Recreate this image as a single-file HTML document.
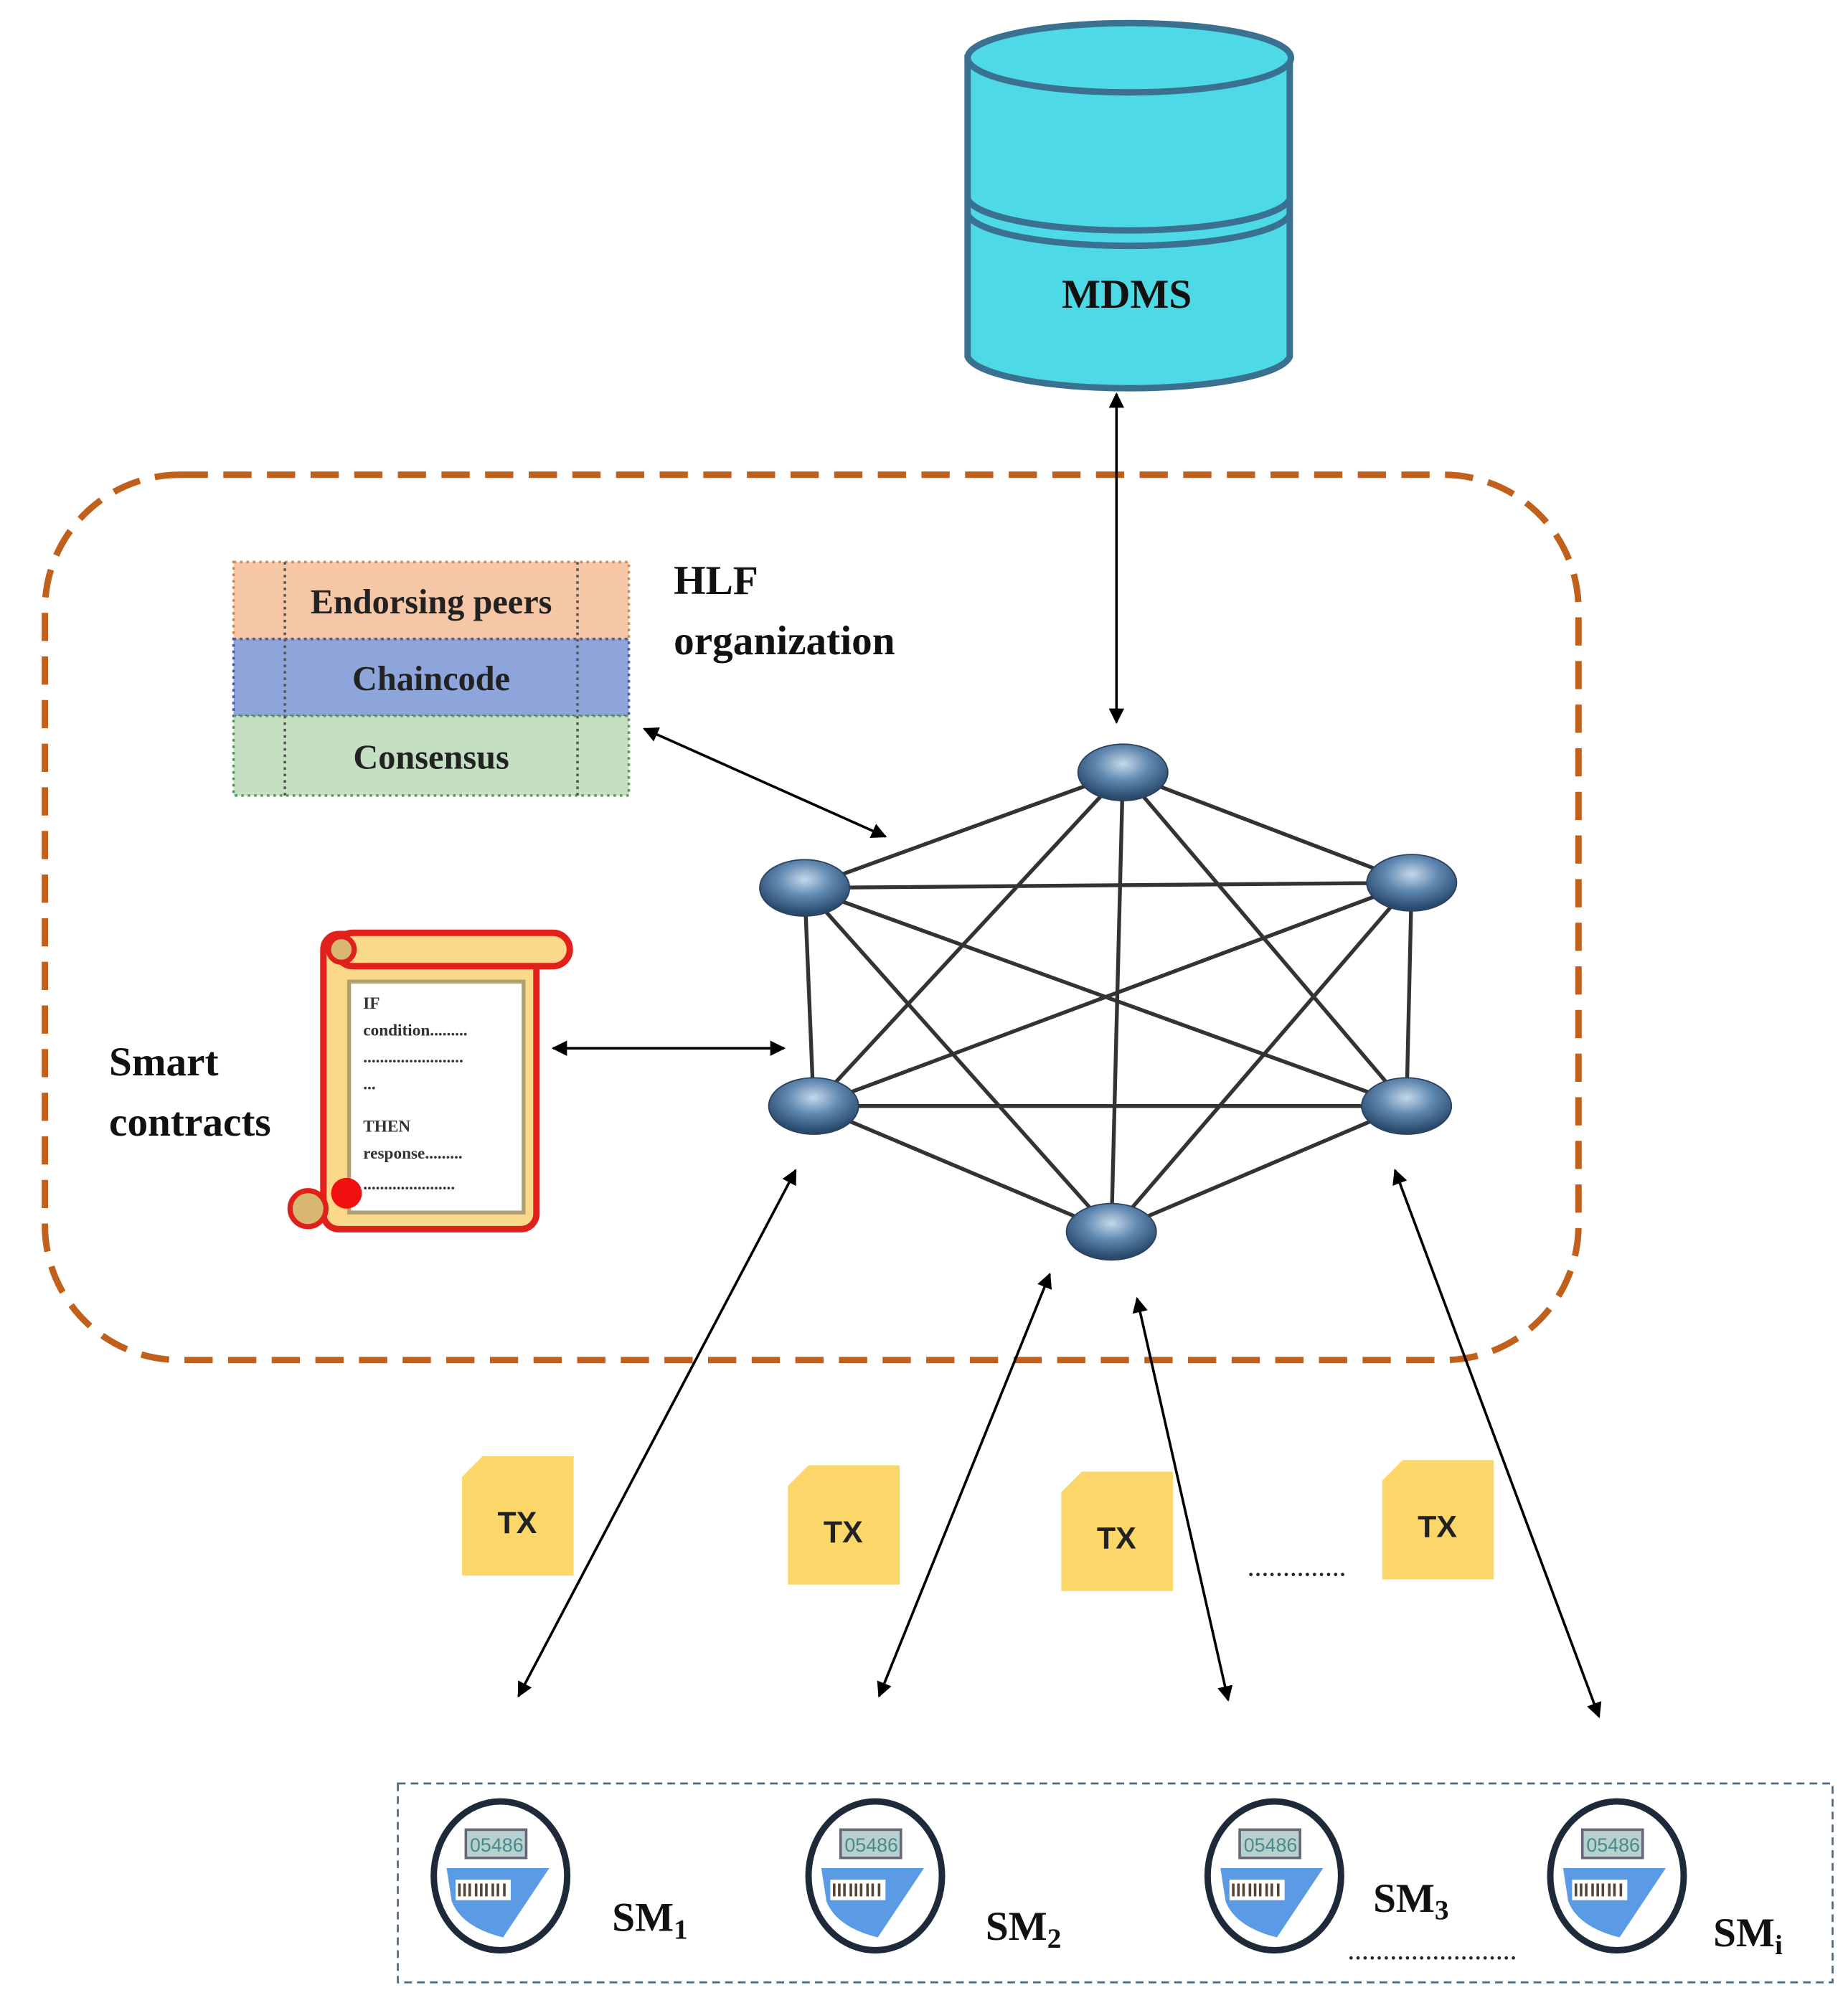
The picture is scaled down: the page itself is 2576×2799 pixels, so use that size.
<!DOCTYPE html>
<html><head><meta charset="utf-8"><style>html,body{margin:0;padding:0;background:#fff}svg{display:block}</style></head>
<body>
<svg width="2576" height="2799" viewBox="0 0 1440 1565" preserveAspectRatio="none" xmlns="http://www.w3.org/2000/svg" font-family="Liberation Serif, serif">
<defs>
<marker id="a" viewBox="0 0 10 10" refX="9" refY="5" markerWidth="6" markerHeight="6" orient="auto-start-reverse"><path d="M0,0 L10,5 L0,10 z" fill="#000"/></marker>
<radialGradient id="n" cx="0.5" cy="0.35" r="0.6"><stop offset="0" stop-color="#c5d8ea"/><stop offset="0.5" stop-color="#5f88b0"/><stop offset="1" stop-color="#2a4a6c"/></radialGradient>
<g id="m">
<ellipse cx="0" cy="0" rx="52" ry="58" fill="#fff" stroke="#1e2a3a" stroke-width="5"/>
<rect x="-27" y="-36" width="47" height="22" fill="#b8d0d0" stroke="#667" stroke-width="2"/>
<text x="-3" y="-19" font-family="Liberation Sans,sans-serif" font-size="15" fill="#4a8a8a" text-anchor="middle">05486</text>
<path d="M-42,-6 L38,-6 L2,48 Q-30,40 -38,20 Z" fill="#5b9be6"/>
<rect x="-35" y="3" width="43" height="16" fill="#fff"/>
<g stroke="#543" stroke-width="2"><path d="M-32,6v10M-28,6v10M-24,6v10M-19,6v10M-15,6v10M-11,6v10M-6,6v10M-2,6v10M3,6v10"/></g>
</g>
<g id="tx"><path d="M16,0 H87 V93 H0 V16 Z" fill="#fbd669"/><text x="43" y="60" font-family="Liberation Sans,sans-serif" font-size="24" font-weight="bold" text-anchor="middle" fill="#222">TX</text></g>
</defs>

<!-- cylinder -->
<path d="M754,45 V278 A126,27 0 0 0 1005,278 V45 Z" fill="#4dd9e5" stroke="#3a7090" stroke-width="5"/>
<ellipse cx="880" cy="45" rx="126" ry="27" fill="#4dd9e5" stroke="#3a7090" stroke-width="5"/>
<path d="M754,155 A126,27 0 0 0 1005,155" fill="none" stroke="#3a7090" stroke-width="5"/>
<path d="M754,167 A126,27 0 0 0 1005,167" fill="none" stroke="#3a7090" stroke-width="5"/>
<text x="878" y="240" font-size="32" font-weight="bold" text-anchor="middle" fill="#111">MDMS</text>

<!-- org box -->
<rect x="35" y="370" width="1195" height="690" rx="105" fill="none" stroke="#c0601a" stroke-width="5" stroke-dasharray="22 12"/>

<!-- table -->
<rect x="182" y="438" width="308" height="60" fill="#f6c7a6" stroke="#d08a5a" stroke-width="2" stroke-dasharray="2 3"/>
<rect x="182" y="498" width="308" height="60" fill="#8ea5dc" stroke="#4a5a9a" stroke-width="2" stroke-dasharray="2 3"/>
<rect x="182" y="558" width="308" height="62" fill="#c5dfc3" stroke="#5a9a5a" stroke-width="2" stroke-dasharray="2 3"/>
<path d="M222,438V620M450,438V620" stroke="#555" stroke-width="2" stroke-dasharray="2 3"/>
<g font-size="27" font-weight="bold" text-anchor="middle" fill="#222">
<text x="336" y="478">Endorsing peers</text><text x="336" y="538">Chaincode</text><text x="336" y="599">Consensus</text></g>
<g font-size="32" font-weight="bold" fill="#111"><text x="525" y="463">HLF</text><text x="525" y="510">organization</text>
<text x="85" y="838">Smart</text><text x="85" y="885">contracts</text></g>

<!-- scroll -->
<rect x="252" y="728" width="166" height="230" rx="12" fill="#fbd98a" stroke="#e0201a" stroke-width="5"/>
<rect x="262" y="727" width="182" height="26" rx="13" fill="#fbd98a" stroke="#e0201a" stroke-width="5"/>
<circle cx="266" cy="740" r="10" fill="#d8b870" stroke="#e0201a" stroke-width="4"/>
<circle cx="240" cy="942" r="14" fill="#d8b870" stroke="#e0201a" stroke-width="4"/>
<rect x="272" y="765" width="136" height="180" fill="#fff" stroke="#b0a070" stroke-width="3"/>
<g font-size="13" font-weight="bold" fill="#333"><text x="283" y="786">IF</text><text x="283" y="807">condition.........</text><text x="283" y="828">........................</text><text x="283" y="849">...</text><text x="283" y="882">THEN</text><text x="283" y="903">response.........</text><text x="283" y="927">......................</text></g>
<circle cx="270" cy="930" r="12" fill="#f01010"/>

<!-- edges -->
<g stroke="#333" stroke-width="3">
<path d="M875,602L627,692M875,602L1100,688M875,602L634,862M875,602L1096,862M875,602L866,960M627,692L1100,688M627,692L634,862M627,692L1096,862M627,692L866,960M1100,688L634,862M1100,688L1096,862M1100,688L866,960M634,862L1096,862M634,862L866,960M1096,862L866,960"/>
</g>
<g fill="url(#n)" stroke="#2a4060" stroke-width="1">
<ellipse cx="875" cy="602" rx="35" ry="22"/><ellipse cx="627" cy="692" rx="35" ry="22"/><ellipse cx="1100" cy="688" rx="35" ry="22"/><ellipse cx="634" cy="862" rx="35" ry="22"/><ellipse cx="1096" cy="862" rx="35" ry="22"/><ellipse cx="866" cy="960" rx="35" ry="22"/>
</g>
<!-- white gaps near nodes for arrow ends -->
<g stroke="#000" stroke-width="2" marker-start="url(#a)" marker-end="url(#a)" fill="none">
<path d="M870,307L870,563"/><path d="M502,568L690,652"/><path d="M431,817L611,817"/>
<path d="M620,912L404,1322"/><path d="M818,993L685,1322"/><path d="M886,1012L957,1325"/><path d="M1087,912L1246,1338"/>
</g>

<use href="#tx" x="360" y="1135"/><use href="#tx" x="614" y="1142"/><use href="#tx" x="827" y="1147"/><use href="#tx" x="1077" y="1138"/>
<text x="972" y="1228" font-size="22" fill="#222">..............</text>

<rect x="310" y="1390" width="1118" height="155" fill="none" stroke="#4a6a8a" stroke-width="1.5" stroke-dasharray="6 4"/>
<use href="#m" x="390" y="1462"/><use href="#m" x="682" y="1462"/><use href="#m" x="993" y="1462"/><use href="#m" x="1260" y="1462"/>
<g font-size="32" font-weight="bold" fill="#111">
<text x="477" y="1505">SM<tspan font-size="22" dy="6">1</tspan></text>
<text x="768" y="1512">SM<tspan font-size="22" dy="6">2</tspan></text>
<text x="1070" y="1490">SM<tspan font-size="22" dy="6">3</tspan></text>
<text x="1335" y="1517">SM<tspan font-size="22" dy="6">i</tspan></text>
</g>
<text x="1050" y="1527" font-size="22" fill="#222">........................</text>
</svg>
</body></html>
